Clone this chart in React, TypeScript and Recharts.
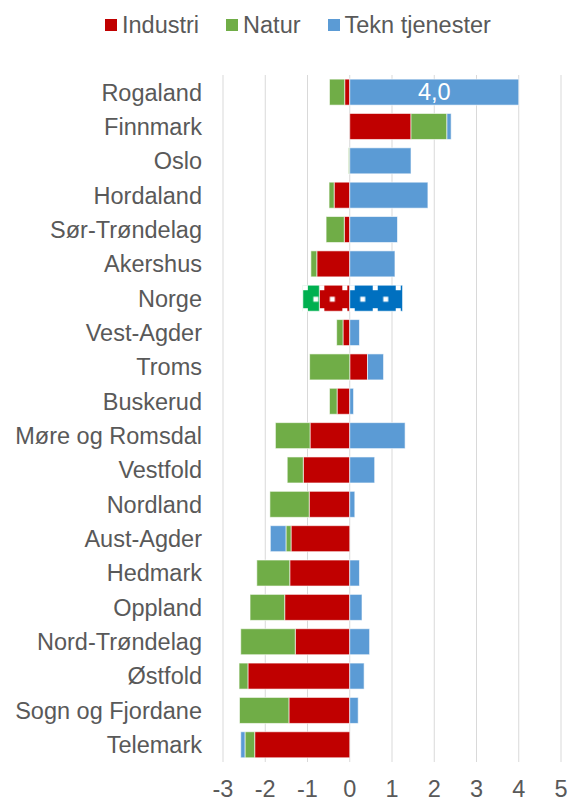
import React from "react";
import {
  BarChart,
  Bar,
  XAxis,
  YAxis,
  CartesianGrid,
  Legend,
  LabelList,
} from "recharts";

const categories = [
  "Rogaland",
  "Finnmark",
  "Oslo",
  "Hordaland",
  "Sør-Trøndelag",
  "Akershus",
  "Norge",
  "Vest-Agder",
  "Troms",
  "Buskerud",
  "Møre og Romsdal",
  "Vestfold",
  "Nordland",
  "Aust-Agder",
  "Hedmark",
  "Oppland",
  "Nord-Trøndelag",
  "Østfold",
  "Sogn og Fjordane",
  "Telemark",
];

const industri = [
  -0.12, 1.45, 0, -0.37, -0.13, -0.78, -0.72, -0.16, 0.42, -0.3, -0.94, -1.1,
  -0.96, -1.39, -1.42, -1.54, -1.29, -2.41, -1.44, -2.25,
];
const natur = [
  -0.36, 0.85, -0.03, -0.12, -0.43, -0.14, -0.39, -0.15, -0.95, -0.18, -0.82,
  -0.38, -0.93, -0.12, -0.78, -0.82, -1.29, -0.21, -1.17, -0.23,
];
const tekn = [
  4.0, 0.1, 1.45, 1.85, 1.13, 1.07, 1.25, 0.23, 0.38, 0.09, 1.31, 0.59, 0.12,
  -0.37, 0.23, 0.29, 0.47, 0.34, 0.2, -0.1,
];
const teknLabels = [
  "4,0", "", "", "", "", "", "", "", "", "", "", "", "", "", "", "", "", "", "", "",
];

const xTicks = [-3, -2, -1, 0, 1, 2, 3, 4, 5];

const seriesNames = ["Industri", "Natur", "Tekn tjenester"];
const seriesColors = ["#C00000", "#70AD47", "#5B9BD5"];
const patternColors = ["#C00000", "#00B050", "#0070C0"];
const highlightCategory = "Norge";

const data = categories.map((name, i) => ({
  name,
  industri: industri[i],
  natur: natur[i],
  tekn: tekn[i],
  label: teknLabels[i] === "" ? undefined : teknLabels[i],
}));

const FONT = '"Liberation Sans", Arial, sans-serif';
const TEXT = "#595959";
const FS = 23.5;

const makeShape = (seriesIdx: number) => (props: any) => {
  const { x, y, width, height, index } = props;
  if (width == null || height == null) return null;
  const left = width < 0 ? x + width : x;
  const w = Math.abs(width);
  if (w < 0.01) return <g />;
  const cat = categories[index];
  if (cat === highlightCategory) {
    const pid = `pat-${seriesIdx}`;
    return (
      <g transform={`translate(${left},${y})`}>
        <defs>
          <pattern
            id={pid}
            width={23}
            height={23}
            patternUnits="userSpaceOnUse"
          >
            <rect width={23} height={23} fill={patternColors[seriesIdx]} />
            <rect x={0} y={0} width={5} height={5} fill="#ffffff" />
            <rect x={10.5} y={11.5} width={5} height={5} fill="#ffffff" />
          </pattern>
        </defs>
        <rect
          x={0}
          y={0}
          width={w}
          height={height}
          fill={`url(#${pid})`}
          stroke="#ffffff"
          strokeOpacity={0.6}
          strokeWidth={1}
        />
      </g>
    );
  }
  return (
    <rect
      x={left}
      y={y}
      width={w}
      height={height}
      fill={seriesColors[seriesIdx]}
      stroke="#ffffff"
      strokeOpacity={0.6}
      strokeWidth={1}
    />
  );
};

const LegendContent = () => (
  <div
    style={{
      height: 40,
      boxSizing: "border-box",
      paddingTop: 10,
      paddingLeft: 105,
      display: "flex",
      alignItems: "center",
      fontFamily: FONT,
      fontSize: FS,
      lineHeight: "27px",
      color: TEXT,
      whiteSpace: "nowrap",
    }}
  >
    {seriesNames.map((n, i) => (
      <div
        key={n}
        style={{
          display: "flex",
          alignItems: "center",
          marginRight: 27,
          height: 27,
        }}
      >
        <span
          style={{
            display: "inline-block",
            width: 12,
            height: 12,
            background: seriesColors[i],
            marginRight: 5,
          }}
        />
        <span>{n}</span>
      </div>
    ))}
  </div>
);

export default function App() {
  return (
    <div
      style={{
        position: "fixed",
        left: 0,
        top: 0,
        width: 569,
        height: 802,
        background: "#ffffff",
      }}
    >
      <BarChart
        width={569}
        height={802}
        data={data}
        layout="vertical"
        stackOffset="sign"
        barCategoryGap="12%"
        margin={{ top: 35, right: 8, bottom: 0, left: 0 }}
      >
        <CartesianGrid
          horizontal={false}
          vertical={true}
          stroke="#D9D9D9"
          strokeWidth={1}
        />
        <XAxis
          type="number"
          domain={[-3, 5]}
          ticks={xTicks}
          allowDataOverflow
          axisLine={false}
          tickLine={false}
          tickSize={0}
          tickMargin={18}
          height={40}
          tick={{ fill: TEXT, fontSize: FS, fontFamily: FONT }}
        />
        <YAxis
          type="category"
          dataKey="name"
          width={223}
          axisLine={false}
          tickLine={false}
          tickSize={0}
          tickMargin={21}
          interval={0}
          tick={{ fill: TEXT, fontSize: FS, fontFamily: FONT }}
        />
        <Legend
          verticalAlign="top"
          align="left"
          height={40}
          wrapperStyle={{ top: 0, left: 0, width: 569, height: 40 }}
          content={<LegendContent />}
        />
        <Bar
          dataKey="industri"
          name={seriesNames[0]}
          stackId="s"
          fill={seriesColors[0]}
          isAnimationActive={false}
          shape={makeShape(0)}
        />
        <Bar
          dataKey="natur"
          name={seriesNames[1]}
          stackId="s"
          fill={seriesColors[1]}
          isAnimationActive={false}
          shape={makeShape(1)}
        />
        <Bar
          dataKey="tekn"
          name={seriesNames[2]}
          stackId="s"
          fill={seriesColors[2]}
          isAnimationActive={false}
          shape={makeShape(2)}
        >
          <LabelList
            dataKey="label"
            position="center"
            fill="#ffffff"
            fontSize={FS}
            fontFamily={FONT}
          />
        </Bar>
      </BarChart>
    </div>
  );
}
